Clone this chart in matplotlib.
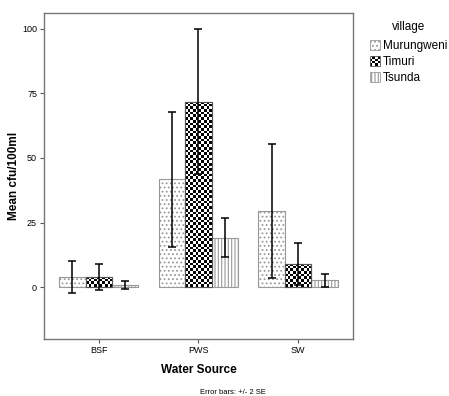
import numpy as np
import matplotlib
matplotlib.use("Agg")
import matplotlib.pyplot as plt
from matplotlib.patches import Patch, Rectangle
from matplotlib.legend_handler import HandlerBase

plt.rcParams['font.family'] = ['Liberation Sans', 'DejaVu Sans']
plt.rcParams['hatch.linewidth'] = 0.8

# donnees
sources = ["BSF", "PWS", "SW"]
villages = ["Murungweni", "Timuri", "Tsunda"]
murungweni_mean = [4.0, 41.7, 29.5]
murungweni_err = [6.2, 26.0, 25.8]
timuri_mean = [4.0, 71.8, 9.1]
timuri_err = [5.0, 28.2, 8.1]
tsunda_mean = [1.0, 19.2, 2.7]
tsunda_err = [1.6, 7.6, 2.6]
yticks = [0, 25, 50, 75, 100]

means = [murungweni_mean, timuri_mean, tsunda_mean]
errs = [murungweni_err, timuri_err, tsunda_err]
hatches = ["....", None, "|||||"]

fig = plt.figure(figsize=(4.49, 3.96), dpi=100)
ax = fig.add_axes([0.098, 0.144, 0.688, 0.823])

x = np.arange(len(sources))
w = 0.265
all_bars = []
for i in range(3):
    pos = x + (i - 1) * w
    if hatches[i] is not None:
        bars = ax.bar(pos, means[i], w, facecolor="white", edgecolor="#999999",
                      hatch=hatches[i], linewidth=0.8, zorder=2)
    else:
        bars = ax.bar(pos, means[i], w, facecolor="white", edgecolor="#555555",
                      linewidth=0.8, zorder=2)
    all_bars.append(bars)

ax.set_xlim(-0.55, 2.55)
ax.set_ylim(-20, 106)
fig.canvas.draw()

# damier pour Timuri
for b in all_bars[1]:
    bb = b.get_window_extent()
    nx = max(1, int(round(bb.width / 2.7)))
    ny = max(1, int(round(bb.height / 2.7)))
    img = (np.add.outer(np.arange(ny), np.arange(nx)) % 2).astype(float)
    im = ax.imshow(img, cmap="gray", vmin=0, vmax=1, interpolation="nearest",
                   extent=[b.get_x(), b.get_x() + b.get_width(), 0, b.get_height()],
                   aspect="auto", zorder=2.5)
    im.set_clip_path(b)
    ax.add_patch(Rectangle((b.get_x(), 0), b.get_width(), b.get_height(),
                           fill=False, edgecolor="#555555", linewidth=0.8, zorder=2.6))
ax.set_xlim(-0.55, 2.55)
ax.set_ylim(-20, 106)

for i in range(3):
    pos = x + (i - 1) * w
    ax.errorbar(pos, means[i], yerr=errs[i], fmt="none", ecolor="black",
                elinewidth=1.1, capsize=3, capthick=1.1, zorder=3)

ax.set_xticks(x)
ax.set_xticklabels(sources, fontsize=6.5)
ax.set_yticks(yticks)
ax.set_yticklabels([str(t) for t in yticks], fontsize=6.5)
ax.tick_params(length=3, width=0.8, color="#555555", pad=2)
for s in ax.spines.values():
    s.set_color("#777777")
    s.set_linewidth(1.0)

ax.set_xlabel("Water Source", fontsize=8.5, fontweight="bold")
ax.set_ylabel("Mean cfu/100ml", fontsize=8.5, fontweight="bold")
ax.xaxis.set_label_coords(0.5, -0.095)
ax.yaxis.set_label_coords(-0.097, 0.5)
ax.xaxis.label.set_va("center")
ax.yaxis.label.set_va("center")
fig.text(0.519, 0.009, "Error bars: +/- 2 SE", fontsize=5.5, ha="center", va="center")


class CheckerHandler(HandlerBase):
    def create_artists(self, legend, orig_handle, xdescent, ydescent,
                       width, height, fontsize, trans):
        arts = [Rectangle((-xdescent, -ydescent), width, height, facecolor="white",
                          edgecolor="none", transform=trans)]
        n = 4
        cw, ch = width / n, height / n
        for r in range(n):
            for c in range(n):
                if (r + c) % 2 == 0:
                    arts.append(Rectangle((-xdescent + c * cw, -ydescent + r * ch), cw, ch,
                                          facecolor="black", edgecolor="none", transform=trans))
        arts.append(Rectangle((-xdescent, -ydescent), width, height, fill=False,
                              edgecolor="#555555", linewidth=0.6, transform=trans))
        return arts


h_mur = Patch(facecolor="white", edgecolor="#999999", hatch="....", linewidth=0.6)
h_tim = Patch(facecolor="white", edgecolor="black")
h_tsu = Patch(facecolor="white", edgecolor="#999999", hatch="|||||", linewidth=0.6)
leg = fig.legend([h_mur, h_tim, h_tsu], villages, title="village",
                 loc="upper left", bbox_to_anchor=(0.81, 0.962), frameon=False,
                 fontsize=8.5, title_fontsize=8.5, handlelength=0.9, handleheight=0.9,
                 handletextpad=0.2, labelspacing=0.35, borderpad=0,
                 handler_map={h_tim: CheckerHandler()})
leg._legend_box.sep = 5

fig.savefig("out.png", dpi=100)
